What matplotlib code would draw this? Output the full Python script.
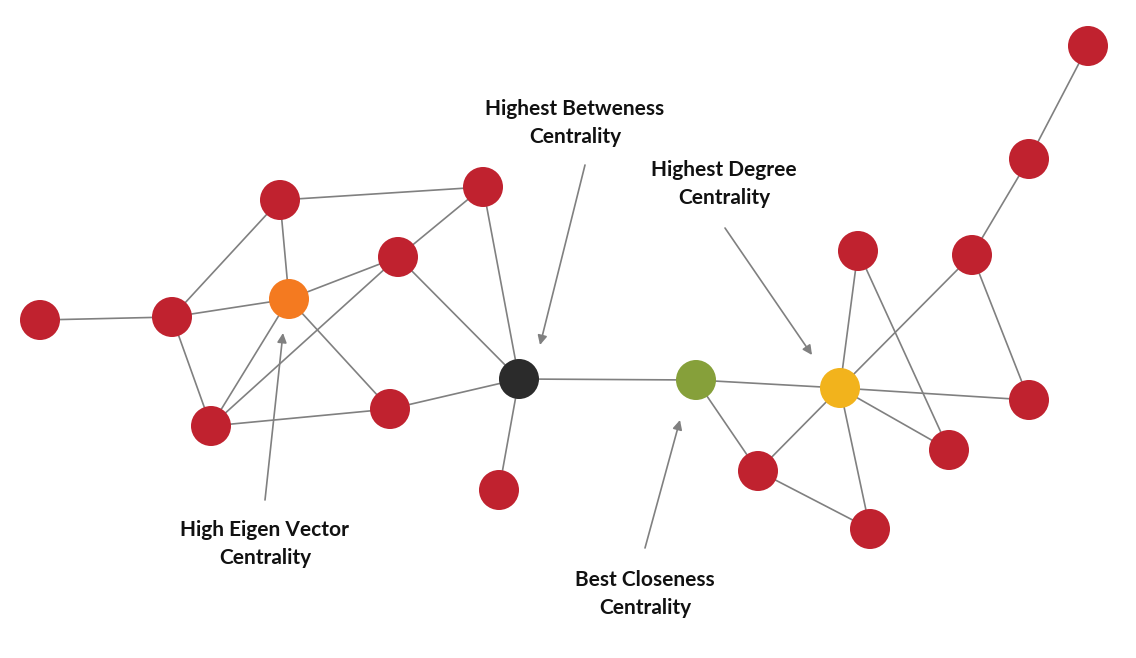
import matplotlib.pyplot as plt

# node positions (pixel space of the diagram, y downwards)
nodes = {
    "A": (40, 320), "B": (172, 317), "C": (280, 200), "D": (289, 299),
    "E": (211, 426), "F": (390, 409), "G": (398, 257), "H": (483, 187),
    "I": (519, 379), "J": (499, 490), "K": (696, 380), "L": (758, 471),
    "M": (870, 529), "N": (840, 388), "O": (858, 251), "P": (972, 255),
    "Q": (1029, 159), "R": (1088, 46), "S": (1029, 400), "T": (949, 450),
}
edges = [("A", "B"), ("B", "C"), ("B", "D"), ("B", "E"), ("C", "D"), ("C", "H"),
         ("D", "G"), ("D", "E"), ("D", "F"), ("E", "G"), ("E", "F"), ("G", "I"),
         ("H", "G"), ("H", "I"), ("F", "I"), ("I", "J"), ("I", "K"), ("K", "N"),
         ("K", "L"), ("L", "N"), ("L", "M"), ("N", "O"), ("N", "P"), ("N", "S"),
         ("N", "T"), ("N", "M"), ("O", "T"), ("P", "S"), ("P", "Q"), ("Q", "R")]
special = {"D": "#F47A20", "I": "#2B2B2B", "K": "#86A03A", "N": "#F2B31C"}
red = "#C0222F"

labels = [
    ("Highest Betweness\nCentrality", (575, 123), (585, 165), (540, 345)),
    ("Highest Degree\nCentrality", (724, 184), (725, 228), (812, 355)),
    ("High Eigen Vector\nCentrality", (265, 544), (265, 500), (283, 333)),
    ("Best Closeness\nCentrality", (645, 594), (645, 548), (680, 420)),
]

fig = plt.figure(figsize=(11.36, 6.58), dpi=100)
ax = fig.add_axes([0, 0, 1, 1])
ax.set_xlim(0, 1136)
ax.set_ylim(658, 0)
ax.axis("off")

for a, b in edges:
    (x1, y1), (x2, y2) = nodes[a], nodes[b]
    ax.plot([x1, x2], [y1, y2], color="#808080", lw=1.2, zorder=1)

xs = [p[0] for p in nodes.values()]
ys = [p[1] for p in nodes.values()]
cols = [special.get(k, red) for k in nodes]
ax.scatter(xs, ys, s=830, c=cols, zorder=2, linewidths=0)

for text, tpos, start, end in labels:
    ax.text(*tpos, text, ha="center", va="center", fontsize=15,
            fontweight="bold", family="Lato", linespacing=1.45, color="#111111")
    ax.annotate("", xy=end, xytext=start,
                arrowprops=dict(arrowstyle="-|>", color="#808080", lw=1.2,
                                mutation_scale=14, shrinkA=0, shrinkB=0))

fig.savefig("out.png", dpi=100)
